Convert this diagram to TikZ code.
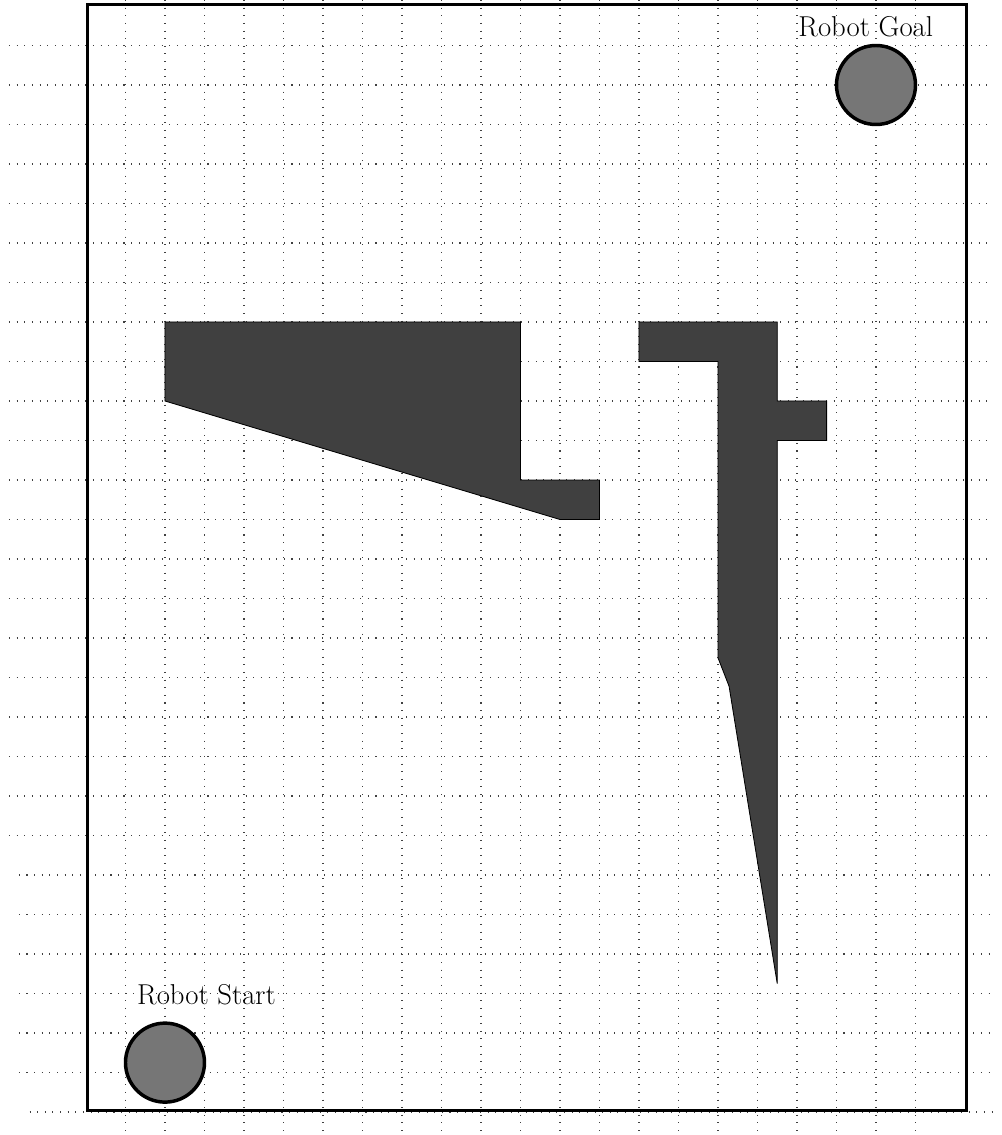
\documentclass[tikz,border=0pt]{standalone}
\usepackage{tikz}
\definecolor{obst}{HTML}{404040}
\definecolor{robotfill}{HTML}{767676}
\tikzset{
  gridline/.style={black!75, line width=0.75pt, dash pattern=on 0.75pt off 4.75pt},
  worldframe/.style={draw=black, line width=2.5pt},
  obstacle/.style={fill=obst, draw=black, line width=0.6pt},
  robot/.style={circle, draw=black, fill=robotfill, line width=2.5pt, minimum size=2cm, inner sep=0pt},
  tag/.style={inner sep=0pt, anchor=base west, font=\fontsize{20.7}{24}\selectfont}
}
\begin{document}
\begin{tikzpicture}[x=1cm,y=1cm]
\useasboundingbox (-2.177,-0.582) rectangle (23.19,28.152);
% grid: vertical lines
\foreach \k in {1,...,21} { \draw[gridline] (\k,28.152) -- (\k,-0.582); }
% grid: horizontal lines
\draw[gridline] (-1.43,0) -- (22.95,0);
\foreach \k in {1,...,6} { \draw[gridline] (-1.70,\k) -- (22.95,\k); }
\foreach \k in {7,...,27} { \draw[gridline] (-1.95,\k) -- (22.95,\k); }
% world boundary
\node[worldframe, inner sep=0pt, minimum width=22.25cm, minimum height=28cm, anchor=south west] (world) at (0,0) {};
% obstacles
\draw[obstacle] (2,20) -- (11,20) -- (11,16) -- (13,16) -- (13,15) -- (12,15) -- (2,18) -- cycle;
\draw[obstacle] (14,20) -- (17.5,20) -- (17.5,18) -- (18.75,18) -- (18.75,17) -- (17.5,17)
  -- (17.5,3.25) -- (16.28,10.78) -- (16,11.5) -- (16,19) -- (14,19) -- cycle;
% robots
\node[robot] (goal) at (20,26) {};
\node[robot] (start) at (2,1.25) {};
\node[tag] (goallabel) at (18.03,27.24) {Robot Goal};
\node[tag] (startlabel) at (1.29,2.71) {Robot Start};
\end{tikzpicture}
\end{document}
